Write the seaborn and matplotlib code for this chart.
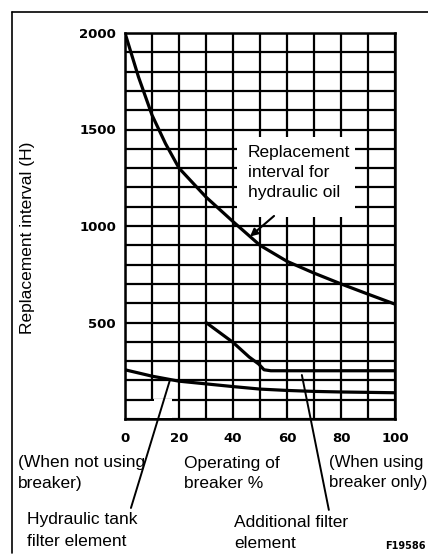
import numpy as np
import pandas as pd
import matplotlib
matplotlib.use("Agg")
import matplotlib.pyplot as plt
from matplotlib.lines import Line2D
from matplotlib.patches import Rectangle
import seaborn as sns

# Breaker operating ratio (%) against replacement interval (hours)
oil_pct = [0, 5, 10, 15, 20, 30, 40, 50, 60, 70, 80, 90, 100]
oil_hours = [2000, 1772, 1575, 1427, 1300, 1150, 1023, 900, 817, 756, 700, 647, 595]

tank_pct = [0, 10, 20, 30, 40, 50, 60, 70, 80, 90, 100]
tank_hours = [255, 222, 196, 182, 168, 155, 148, 143, 140, 138, 136]

extra_pct = [30, 40, 46, 49.5, 51.5, 54, 100]
extra_hours = [500, 397, 321, 285, 255, 250, 250]

x_ticks = [0, 20, 40, 60, 80, 100]
y_ticks = [500, 1000, 1500, 2000]

W, H = 428, 555


def fig_xy(px, py):
    """Pixel position (from top-left) -> figure fraction."""
    return px / W, 1 - py / H


sns.set_style("white")
plt.rcParams["font.family"] = ["Liberation Sans", "DejaVu Sans"]
plt.rcParams["text.color"] = "black"
plt.rcParams["axes.labelcolor"] = "black"
plt.rcParams["xtick.color"] = "black"
plt.rcParams["ytick.color"] = "black"

fig = plt.figure(figsize=(W / 100, H / 100), dpi=100)
ax = fig.add_axes([125 / W, 1 - 419 / H, 270 / W, 386 / H])

# curves
line_kw = dict(color="black", lw=2.3, ax=ax, zorder=4)
sns.lineplot(x=oil_pct, y=oil_hours, **line_kw)
sns.lineplot(x=tank_pct, y=tank_hours, **line_kw)
sns.lineplot(x=extra_pct, y=extra_hours, **line_kw)

ax.set_xlim(0, 100)
ax.set_ylim(0, 2000)

# grid: every 10 % and every 100 h
ax.set_xticks(x_ticks)
ax.set_xticklabels([str(v) for v in x_ticks])
ax.set_xticks(np.arange(0, 101, 10), minor=True)
ax.set_yticks(y_ticks)
ax.set_yticklabels([str(v) for v in y_ticks])
ax.set_yticks(np.arange(0, 2001, 100), minor=True)
ax.grid(which="both", color="black", lw=1.6)
ax.set_axisbelow(True)
for s in ax.spines.values():
    s.set_color("black")
    s.set_linewidth(1.8)

tick_font = dict(family="DejaVu Sans", weight="bold", size=9.5)
ax.tick_params(axis="both", which="both", length=0)
ax.tick_params(axis="x", pad=9)
ax.tick_params(axis="y", pad=6.5)
for lab in ax.get_xticklabels() + ax.get_yticklabels():
    lab.set_fontproperties(tick_font)

ax.set_ylabel("Replacement interval (H)", fontsize=12.5, color="black")
ax.yaxis.set_label_coords(-0.333, 0.469)
ax.set_xlabel("")

# blank areas in the grid
ax.add_patch(Rectangle((41.3, 1048), 43.7, 412, facecolor="white",
                       edgecolor="none", zorder=1))
ax.add_patch(Rectangle((9.4, 4), 1.3, 90, facecolor="white",
                       edgecolor="none", zorder=1))
ax.add_patch(Rectangle((10.6, 4), 6.8, 102, facecolor="white",
                       edgecolor="none", zorder=1))

txt = dict(fontsize=12.5, color="black", va="baseline", ha="left")

# label for the oil curve
fig.text(*fig_xy(248, 157), "Replacement", **txt)
fig.text(*fig_xy(248, 177), "interval for", **txt)
fig.text(*fig_xy(248, 197), "hydraulic oil", **txt)

# leader lines
ax.annotate("", xy=(46.3, np.interp(46.3, oil_pct, oil_hours)),
            xytext=(55.2, 1052),
            arrowprops=dict(arrowstyle="-|>", lw=1.5, color="black",
                            mutation_scale=11, shrinkA=0, shrinkB=0),
            zorder=5)
ax.annotate("", xy=(16.7, np.interp(16.7, tank_pct, tank_hours)),
            xytext=(2.2, -461), annotation_clip=False,
            arrowprops=dict(arrowstyle="-", lw=1.4, color="black",
                            shrinkA=0, shrinkB=0, clip_on=False))
ax.annotate("", xy=(65.5, 228), xytext=(75.5, -471), annotation_clip=False,
            arrowprops=dict(arrowstyle="-", lw=1.4, color="black",
                            shrinkA=0, shrinkB=0, clip_on=False))

# captions below the chart
fig.text(*fig_xy(18, 467), "(When not using", **txt)
fig.text(*fig_xy(18, 488), "breaker)", **txt)
fig.text(*fig_xy(184, 468), "Operating of", **txt)
fig.text(*fig_xy(184, 488), "breaker %", **txt)
right_txt = dict(txt, fontsize=12.1)
fig.text(*fig_xy(329, 467), "(When using", **right_txt)
fig.text(*fig_xy(329, 487), "breaker only)", **right_txt)
fig.text(*fig_xy(27, 524), "Hydraulic tank", **txt)
fig.text(*fig_xy(27, 546), "filter element", **txt)
fig.text(*fig_xy(234, 527), "Additional filter", **txt)
fig.text(*fig_xy(234, 548), "element", **txt)
fig.text(*fig_xy(426, 549), "F19586", fontsize=7, weight="bold",
         family=["Liberation Sans Narrow", "DejaVu Sans"], va="baseline",
         ha="right", color="black")

# page frame (top and left)
fig.add_artist(Line2D([12 / W, 1], [1 - 12 / H, 1 - 12 / H],
                      color="black", lw=1.2))
fig.add_artist(Line2D([12 / W, 12 / W], [1 - 12 / H, 1 - 553 / H],
                      color="black", lw=1.2))

fig.savefig("out.png", dpi=100)
